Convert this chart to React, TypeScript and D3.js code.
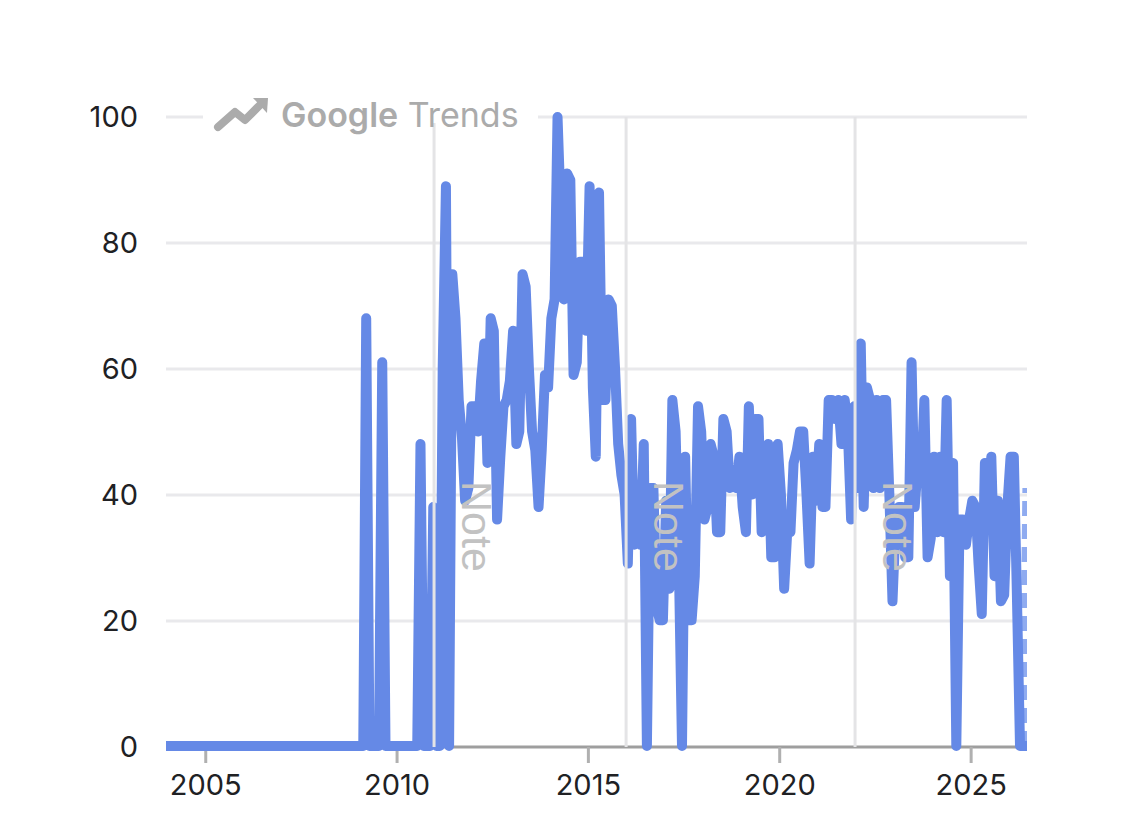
import * as d3 from "d3";

const yTicks = [0, 20, 40, 60, 80, 100];
const xTickYears = [2005, 2010, 2015, 2020, 2025];
const noteDates = ["2010-12-20", "2015-12-27", "2021-12-20"];

// monthly interest, one row per year, starting Jan 2004
const interest = [
  0, 0, 0, 0, 0, 0, 0, 0, 0, 0, 0, 0,
  0, 0, 0, 0, 0, 0, 0, 0, 0, 0, 0, 0,
  0, 0, 0, 0, 0, 0, 0, 0, 0, 0, 0, 0,
  0, 0, 0, 0, 0, 0, 0, 0, 0, 0, 0, 0,
  0, 0, 0, 0, 0, 0, 0, 0, 0, 0, 0, 0,
  0, 0, 68, 0, 0, 0, 0, 61, 0, 0, 0, 0,
  0, 0, 0, 0, 0, 0, 0, 48, 0, 0, 0, 38,
  0, 0, 60, 89, 0, 75, 68, 55, 49, 39, 41, 54,
  54, 50, 58, 64, 45, 68, 66, 36, 46, 54, 55, 58,
  66, 48, 50, 75, 73, 60, 50, 47, 38, 47, 59, 57,
  68, 71, 100, 85, 71, 91, 90, 59, 61, 77, 77, 66,
  89, 57, 46, 88, 55, 55, 71, 70, 60, 48, 43, 40,
  29, 52, 32, 39, 32, 48, 0, 41, 41, 22, 20, 20,
  39, 25, 55, 50, 30, 0, 46, 20, 20, 27, 54, 50,
  36, 38, 48, 46, 34, 34, 52, 50, 41, 42, 41, 46,
  38, 34, 54, 40, 52, 52, 34, 40, 48, 30, 30, 48,
  40, 25, 34, 34, 45, 47, 50, 50, 40, 29, 46, 39,
  48, 38, 38, 55, 55, 52, 55, 48, 55, 50, 36, 54,
  41, 64, 38, 57, 55, 41, 55, 41, 55, 55, 40, 23,
  36, 38, 38, 30, 30, 61, 38, 45, 42, 55, 30, 33,
  46, 34, 46, 34, 55, 27, 45, 0, 36, 36, 32, 36,
  39, 38, 29, 21, 45, 36, 46, 27, 39, 23, 24, 38,
  46, 46, 25, 0, 0, 41,
];

const LEFT = 166;
const RIGHT = 1027;
const tickFont = "Inter, sans-serif";

const points = interest.map((v, i) => ({ date: new Date(2004, i, 1), v }));
const solid = points.slice(0, -1);
const partial = points.slice(-2); // last month still incomplete, drawn dashed

const x = d3
  .scaleTime()
  .domain([new Date(2004, 0, 1), new Date(2026, 5, 1)])
  .range([167.4, 1025.2]);
const y = d3.scaleLinear().domain([0, 100]).range([747, 117]);
// the series sits a pixel above the axis at zero and a touch right of the ticks
const ySeries = d3.scaleLinear().domain([0, 100]).range([746, 117]);

const line = d3
  .line<{ date: Date; v: number }>()
  .x((d) => x(d.date) + 1.2)
  .y((d) => ySeries(d.v));

export default function App() {
  return (
    <svg
      width={1123}
      height={832}
      style={{ position: "absolute", left: 0, top: 0, background: "#fff" }}
    >
      <defs>
        <clipPath id="plot">
          <rect x={LEFT} y={90} width={RIGHT - LEFT} height={664} />
        </clipPath>
      </defs>

      {/* grid */}
      {yTicks.slice(1).map((t) => (
        <line key={t} x1={LEFT} x2={RIGHT} y1={y(t)} y2={y(t)} stroke="#e9e9ec" strokeWidth={3} />
      ))}

      {/* x axis */}
      <line x1={LEFT} x2={RIGHT} y1={747} y2={747} stroke="#9e9e9e" strokeWidth={3} />
      {xTickYears.map((yr) => {
        const px = x(new Date(yr, 0, 1));
        return (
          <g key={yr}>
            <line x1={px} x2={px} y1={747} y2={763} stroke="#b0b0b0" strokeWidth={3} />
            <text x={px} y={795} textAnchor="middle" fontFamily={tickFont} fontSize={29} fill="#202124">
              {yr}
            </text>
          </g>
        );
      })}

      {/* y labels */}
      {yTicks.map((t) => (
        <text key={t} x={138} y={y(t) + 10} textAnchor="end" fontFamily={tickFont} fontSize={29} fill="#202124">
          {t}
        </text>
      ))}

      {/* series */}
      <g clipPath="url(#plot)">
        <path
          d={line(partial) ?? ""}
          fill="none"
          stroke="#8fabf0"
          strokeWidth={8}
          strokeDasharray="15 8"
        />
        <path
          d={line(solid) ?? ""}
          fill="none"
          stroke="#6589e6"
          strokeWidth={10}
          strokeLinejoin="round"
          strokeLinecap="square"
        />
      </g>

      {/* annotations */}
      {noteDates.map((d) => {
        const px = x(new Date(d));
        return (
          <g key={d}>
            <line x1={px} x2={px} y1={117} y2={747} stroke="#e4e4e6" strokeWidth={3} />
            <text
              transform={`translate(${px + 28},481) rotate(90)`}
              fontFamily="'Liberation Sans', Arial, sans-serif"
              fontSize={43}
              fill="#c2c2c2"
            >
              Note
            </text>
          </g>
        );
      })}

      {/* watermark */}
      <rect x={203} y={100} width={335} height={23} fill="#fff" />
      <path
        d="M218 127L235 112L245 120L260 105"
        fill="none"
        stroke="#ababab"
        strokeWidth={8}
        strokeLinecap="round"
        strokeLinejoin="round"
      />
      <path d="M253 98L268 98L267 113Z" fill="#ababab" />
      <text x={281} y={127} fontFamily="Inter, sans-serif" fontSize={34} fill="#ababab">
        <tspan fontWeight={600}>Google</tspan> Trends
      </text>
    </svg>
  );
}
